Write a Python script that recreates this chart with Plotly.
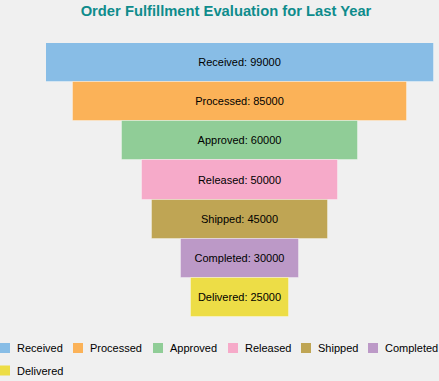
import plotly.graph_objects as go

stages = ["Received", "Processed", "Approved", "Released", "Shipped", "Completed", "Delivered"]
values = [99000, 85000, 60000, 50000, 45000, 30000, 25000]
colors = ["#88BDE6", "#FBB258", "#90CD97", "#F6AAC9", "#BFA554", "#BC99C7", "#EDDD46"]

W, H = 439, 381
ml, mr, mt, mb = 46, 5, 43, 64
pw = W - ml - mr
ph = H - mt - mb
FONT = "Liberation Sans, Arial, sans-serif"

# legend entry placement (page pixels): square left edge, row centre
legend_sq_x = [0, 73, 153, 228, 301, 368, 0]
legend_row_y = [348, 348, 348, 348, 348, 348, 370.5]
SQ = 10


def px_x(p):
    return (p - ml) / pw


def px_y(p):
    return (H - mb - p) / ph


fig = go.Figure()
for name, val, col in zip(stages, values, colors):
    fig.add_trace(go.Funnel(
        name=name,
        y=[name],
        x=[val],
        text=[f"{name}: {val}"],
        textinfo="text",
        textposition="inside",
        insidetextanchor="middle",
        textfont=dict(color="black", size=11, family=FONT),
        marker=dict(color=col, line=dict(width=1, color="rgba(255,255,255,0.35)")),
        connector=dict(visible=False),
        hoverinfo="skip",
        showlegend=False,
    ))

# legend drawn as swatches + labels
shapes, annotations = [], []
for name, col, sx, sy in zip(stages, colors, legend_sq_x, legend_row_y):
    shapes.append(dict(
        type="rect", xref="paper", yref="paper",
        x0=px_x(sx), x1=px_x(sx + SQ),
        y0=px_y(sy + SQ / 2), y1=px_y(sy - SQ / 2),
        fillcolor=col, line=dict(width=0),
    ))
    annotations.append(dict(
        text=name, xref="paper", yref="paper",
        x=px_x(sx + 15), y=px_y(sy), xanchor="left", yanchor="middle",
        showarrow=False, font=dict(size=11, color="black", family=FONT),
    ))

fig.update_layout(
    width=W, height=H,
    margin=dict(l=ml, r=mr, t=mt, b=mb, autoexpand=False),
    paper_bgcolor="#F0F0F0",
    plot_bgcolor="#F0F0F0",
    funnelmode="overlay",
    funnelgap=0,
    title=dict(
        text="<b>Order Fulfillment Evaluation for Last Year</b>",
        x=226 / W, xanchor="center",
        y=1 - 11 / H, yanchor="middle",
        xref="container", yref="container",
        font=dict(size=14.75, color="#0E8C8C", family=FONT),
    ),
    xaxis=dict(visible=False, range=[-max(values) / 2, max(values) / 2], fixedrange=True),
    yaxis=dict(visible=False, range=[len(stages) - 0.5, -0.5], fixedrange=True),
    showlegend=False,
    shapes=shapes,
    annotations=annotations,
)

fig.write_html(
    "out.html",
    config={"displayModeBar": False},
    post_script="document.body.style.margin='0';document.body.style.background='#F0F0F0';",
)
